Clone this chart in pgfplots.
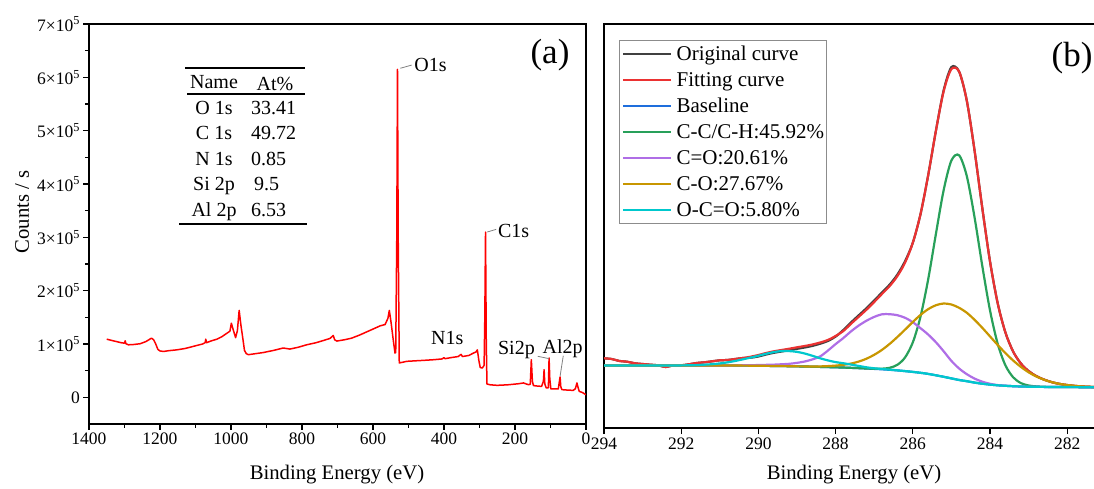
\documentclass[border=0pt]{standalone}
\usepackage{pgfplots}
\pgfplotsset{compat=1.18}
\usepackage{pgfplotstable}
\usepackage{fontspec}
\setmainfont{Liberation Serif}

\definecolor{survey}{RGB}{255,0,0}
\definecolor{origc}{RGB}{64,64,64}
\definecolor{fitc}{RGB}{235,50,50}
\definecolor{basec}{RGB}{30,110,220}
\definecolor{ccc}{RGB}{40,160,90}
\definecolor{cdoc}{RGB}{175,110,230}
\definecolor{coc}{RGB}{200,150,0}
\definecolor{ococ}{RGB}{0,200,205}

\newcommand\tickfont{\fontsize{17.5}{21}\selectfont}
\newcommand\labfont{\fontsize{20.7}{25}\selectfont}
\newcommand\legfont{\fontsize{21}{25}\selectfont}
\newcommand\tabfont{\fontsize{20}{24}\selectfont}
\newcommand\peakfont{\fontsize{20}{24}\selectfont}
\newcommand\panelfont{\fontsize{35}{42}\selectfont}

% Survey spectrum (binding energy in eV, counts per second)
\pgfplotstableread{
be counts
1350 109000
1335 106500
1322 104500
1310 102500
1300 101500
1298 106000
1296 100500
1289 98500
1275 99000
1256 100500
1240 104500
1230 108500
1224 111000
1218 108000
1212 100000
1206 90000
1200 87000
1190 86000
1175 87500
1153 89000
1130 91500
1115 94000
1095 97500
1080 100000
1073 102500
1071 109000
1069 102500
1055 106000
1040 109000
1025 114000
1012 120000
1003 124000
999 139000
993 125000
987 112000
982 125000
977 163000
972 135000
967 112000
962 88000
957 82000
951 80000
935 81500
909 84000
880 88000
853 92500
834 90500
810 94000
787 98500
760 102500
740 106500
721 110500
712 116000
708 108000
702 105500
680 108000
660 111000
637 117000
610 125000
580 134000
566 136500
558 148000
554 163000
549 140000
543 108000
538 83000
536 84000
533 300000
531 615000
529 300000
526 64500
515 66000
505 67500
480 68500
458 69300
430 70500
405 72000
400 74500
397 72500
380 74500
360 76500
352 80500
348 76500
330 78500
317 83000
310 85000
306 89000
302 70000
298 56000
292 55000
287 60000
285 150000
283 309700
281 110000
279 25000
270 23500
250 22500
220 23500
190 25500
176 27000
168 25000
162 23800
157 24500
154 70600
151 30000
148 22000
135 21000
125 20600
120 30000
118 51900
116 25000
112 17600
106 18000
104 73800
102 35000
99 15700
85 15700
78 15700
76 25000
73 38200
71 20000
68 14400
50 13500
36 13100
30 16000
25.5 27000
23 20000
19 11200
10 9000
3 6000
0 5000
}\survey

% C 1s high-resolution spectrum: background, fitted components, envelope, data
\pgfplotstableread{
be base CC CdO CO OCO fit orig
281.0 40.6 40.6 40.6 40.7 40.6 40.7 40.7
281.2 40.65 40.65 40.65 40.85 40.65 40.85 40.85
281.4 40.75 40.75 40.75 41.15 40.75 41.15 41.15
281.6 40.8 40.8 40.8 41.5 40.8 41.5 41.5
281.8 40.9 40.9 40.9 42.1 40.9 42.1 42.1
282.0 40.95 40.95 40.95 42.95 40.95 42.95 42.95
282.2 41.0 41.0 41.0 44.1 41.0 44.1 44.1
282.4 41.05 41.05 41.05 45.85 41.05 45.85 45.85
282.6 41.1 41.2 41.1 48.3 41.1 48.4 48.4
282.8 41.2 41.6 41.2 51.5 41.2 51.9 51.9
283.0 41.3 42.5 41.3 55.7 41.3 56.9 56.9
283.2 41.5 44.9 41.5 61.1 41.5 64.5 64.5
283.4 41.8 50.7 41.8 67.5 41.8 76.4 76.4
283.6 42.2 62.6 42.3 74.9 42.2 95.4 95.4
283.8 42.7 84.1 42.9 83.0 42.7 124.6 124.6
284.0 43.4 117.6 44.2 91.6 43.4 166.6 166.6
284.2 44.3 162.1 46.3 100.2 44.3 220.0 220.0
284.4 45.4 210.6 49.4 108.2 45.4 277.4 277.4
284.6 46.8 251.7 53.8 115.2 46.8 327.1 327.1
284.8 48.0 272.7 59.5 120.2 48.0 356.4 356.4
285.0 49.6 267.5 67.1 123.5 49.6 358.9 360.9
285.2 51.2 238.0 76.7 124.5 51.2 336.8 337.8
285.4 52.7 194.4 85.7 122.8 52.7 297.5 297.5
285.6 54.1 149.0 93.4 118.9 54.1 253.1 253.1
285.8 55.2 111.4 99.8 113.1 55.2 213.9 213.9
286.0 56.1 85.6 105.8 106.0 56.1 185.2 185.2
286.2 56.9 70.6 110.2 98.4 56.9 165.4 166.9
286.4 57.6 63.2 112.8 91.0 57.65 151.9 153.4
286.6 58.2 60.2 113.8 84.1 58.35 141.9 143.4
286.8 58.7 59.3 113.7 78.1 59.0 134.0 135.5
287.0 59.1 59.3 111.1 73.2 59.7 126.0 127.5
287.2 59.5 59.5 107.3 69.3 60.7 118.3 119.8
287.4 59.85 59.85 102.45 66.45 62.05 111.25 112.75
287.6 60.15 60.15 96.65 64.45 63.45 104.25 105.6
287.8 60.45 60.45 89.95 63.15 64.75 96.95 98.0
288.0 60.7 60.7 83.9 62.4 65.9 92.0 91.4
288.2 60.9 60.9 77.4 61.9 67.6 88.0 87.0
288.4 61.1 61.1 71.6 61.6 69.7 85.5 84.3
288.6 61.3 61.3 68.6 61.6 72.2 83.5 82.1
288.8 61.5 61.5 66.5 61.6 74.5 82.0 80.5
289.0 61.65 61.65 65.15 61.65 76.15 80.7 79.2
289.2 61.8 61.8 64.2 61.8 76.9 79.3 77.8
289.4 61.95 61.95 63.75 61.95 76.95 78.0 76.5
289.6 62.05 62.05 63.35 62.05 75.95 76.7 75.2
289.8 62.15 62.15 63.15 62.15 74.25 75.0 73.5
290.0 62.25 62.25 62.95 62.25 72.25 73.0 71.5
290.2 62.33 62.33 62.83 62.33 70.43 71.3 70.3
290.4 62.4 62.4 62.7 62.4 68.7 70.0 70.0
290.6 62.43 62.43 62.63 62.43 67.03 69.0 69.0
290.8 62.45 62.45 62.55 62.45 65.65 68.0 68.0
291.0 62.48 62.48 62.48 62.48 64.58 67.7 67.7
291.2 62.5 62.5 62.5 62.5 63.8 66.7 66.7
291.4 62.5 62.5 62.5 62.5 63.3 65.7 65.7
291.6 62.5 62.5 62.5 62.5 62.9 65.0 65.0
291.8 62.5 62.5 62.5 62.5 62.7 63.7 63.7
292.0 62.5 62.5 62.5 62.5 62.6 62.7 62.7
292.2 62.5 62.5 62.5 62.5 62.5 62.7 62.7
292.4 62.5 62.5 62.5 62.5 62.5 61.0 61.0
292.6 62.5 62.5 62.5 62.5 62.5 62.7 62.7
292.8 62.5 62.5 62.5 62.5 62.5 63.3 63.3
293.0 62.5 62.5 62.5 62.5 62.5 64.0 64.0
293.2 62.5 62.5 62.5 62.5 62.5 64.7 64.7
293.4 62.5 62.5 62.5 62.5 62.5 66.3 66.3
293.6 62.5 62.5 62.5 62.5 62.5 67.0 67.0
293.8 62.5 62.5 62.5 62.5 62.5 69.0 69.0
294.0 62.5 62.5 62.5 62.5 62.5 69.7 69.7
}\cspec

\begin{document}
\begin{tikzpicture}
% ---------------- (a) survey spectrum ----------------
\begin{axis}[
  at={(89pt,64pt)}, anchor=south west,
  scale only axis, width=497pt, height=400pt,
  xmin=0, xmax=1400, x dir=reverse,
  ymin=-50000, ymax=700000,
  xtick={0,200,...,1400},
  minor xtick={100,300,...,1300},
  ytick={0,100000,200000,300000,400000,500000,600000,700000},
  minor ytick={50000,150000,250000,350000,450000,550000,650000},
  yticklabels={0,1×10\textsuperscript{5},2×10\textsuperscript{5},3×10\textsuperscript{5},4×10\textsuperscript{5},5×10\textsuperscript{5},6×10\textsuperscript{5},7×10\textsuperscript{5}},
  scaled y ticks=false,
  xtick pos=bottom, ytick pos=left,
  tick align=outside,
  major tick length=5.5pt, minor tick length=3.5pt,
  tick style={black, line width=1.1pt},
  axis line style={black, line width=1.3pt},
  tick label style={font=\tickfont},
  /pgf/number format/assume math mode=true,
  /pgf/number format/1000 sep={},
]
\addplot[survey, line width=1.5pt, line join=round] table[x=be, y=counts] {\survey};

\draw[gray, line width=0.8pt] (axis cs:523,617000) -- (axis cs:491,623000);
\node[anchor=west, inner sep=0pt, font=\peakfont] at (axis cs:484,623000) {O1s};
\draw[gray, line width=0.8pt] (axis cs:278,310000) -- (axis cs:253,315000);
\node[anchor=west, inner sep=0pt, font=\peakfont] at (axis cs:248,312000) {C1s};
\node[inner sep=0pt, font=\peakfont] at (axis cs:391,111800) {N1s};
\node[inner sep=0pt, font=\peakfont] at (axis cs:196,89300) {Si2p};
\node[inner sep=0pt, font=\peakfont] at (axis cs:66,91200) {Al2p};
\draw[gray, line width=0.8pt] (axis cs:136,77000) -- (axis cs:104,72500);
\draw[gray, line width=0.8pt] (axis cs:64,78000) -- (axis cs:73,39500);
\end{axis}

% ---------------- (b) C 1s high-resolution spectrum ----------------
\begin{axis}[
  at={(604pt,60pt)}, anchor=south west,
  scale only axis, width=501.8pt, height=404pt,
  xmin=281, xmax=294, x dir=reverse,
  ymin=0, ymax=404,
  xtick={282,284,...,294}, ytick=\empty,
  xtick pos=bottom,
  tick align=outside, major tick length=6pt,
  tick style={black, line width=1.1pt},
  axis line style={black, line width=1.3pt},
  tick label style={font=\tickfont},
  /pgf/number format/assume math mode=true,
  legend image code/.code={\draw[#1, line width=2.4pt] (0pt,0pt) -- (48pt,0pt);},
  legend cell align=left,
  legend style={
    at={(axis description cs:0.0305,0.9604)}, anchor=north west,
    draw=black!45, line width=0.8pt, fill=white,
    font=\legfont, inner xsep=2.5pt, inner ysep=1.5pt,
    row sep=2pt, column sep=4pt,
    nodes={inner sep=0pt, text height=19pt, text depth=5pt},
  },
]
\addplot[origc, line width=2.2pt, smooth] table[x=be, y=orig] {\cspec};
\addlegendentry{Original curve}
\addplot[fitc, line width=2.2pt, smooth] table[x=be, y=fit] {\cspec};
\addlegendentry{Fitting curve}
\addplot[basec, line width=2.2pt, smooth] table[x=be, y=base] {\cspec};
\addlegendentry{Baseline}
\addplot[ccc, line width=2.2pt, smooth] table[x=be, y=CC] {\cspec};
\addlegendentry{C-C/C-H:45.92\%}
\addplot[cdoc, line width=2.2pt, smooth] table[x=be, y=CdO] {\cspec};
\addlegendentry{C=O:20.61\%}
\addplot[coc, line width=2.2pt, smooth] table[x=be, y=CO] {\cspec};
\addlegendentry{C-O:27.67\%}
\addplot[ococ, line width=2.2pt, smooth] table[x=be, y=OCO] {\cspec};
\addlegendentry{O-C=O:5.80\%}
\end{axis}

% axis titles and panel tags
\node[font=\labfont] at (337pt,13pt) {Binding Energy (eV)};
\node[font=\labfont] at (854pt,13pt) {Binding Energy (eV)};
\node[font=\labfont, rotate=90] at (22pt,276pt) {Counts / s};
\node[font=\panelfont] at (550pt,432.5pt) {(a)};
\node[font=\panelfont] at (1072pt,430pt) {(b)};

% atomic composition table
\draw[line width=2pt] (185pt,419.7pt) -- (305pt,419.7pt);
\draw[line width=1.6pt] (187pt,393.7pt) -- (305pt,393.7pt);
\draw[line width=2pt] (179pt,263.7pt) -- (307pt,263.7pt);
\node[anchor=base, inner sep=0pt, font=\tabfont] at (214pt,399.7pt) {Name};
\node[anchor=base west, inner sep=0pt, font=\tabfont] at (256.5pt,397.5pt) {At\%};
\node[anchor=base, inner sep=0pt, font=\tabfont] at (214pt,373.7pt) {O 1s};
\node[anchor=base west, inner sep=0pt, font=\tabfont] at (251pt,373.7pt) {33.41};
\node[anchor=base, inner sep=0pt, font=\tabfont] at (214pt,348pt) {C 1s};
\node[anchor=base west, inner sep=0pt, font=\tabfont] at (251pt,348pt) {49.72};
\node[anchor=base, inner sep=0pt, font=\tabfont] at (214pt,322.3pt) {N 1s};
\node[anchor=base west, inner sep=0pt, font=\tabfont] at (251pt,322.3pt) {0.85};
\node[anchor=base, inner sep=0pt, font=\tabfont] at (214pt,297.3pt) {Si 2p};
\node[anchor=base west, inner sep=0pt, font=\tabfont] at (254pt,297.3pt) {9.5};
\node[anchor=base, inner sep=0pt, font=\tabfont] at (214pt,271.3pt) {Al 2p};
\node[anchor=base west, inner sep=0pt, font=\tabfont] at (251pt,271.3pt) {6.53};

\pgfresetboundingbox
\path[use as bounding box] (0pt,0pt) rectangle (1094pt,488pt);
\end{tikzpicture}
\end{document}
